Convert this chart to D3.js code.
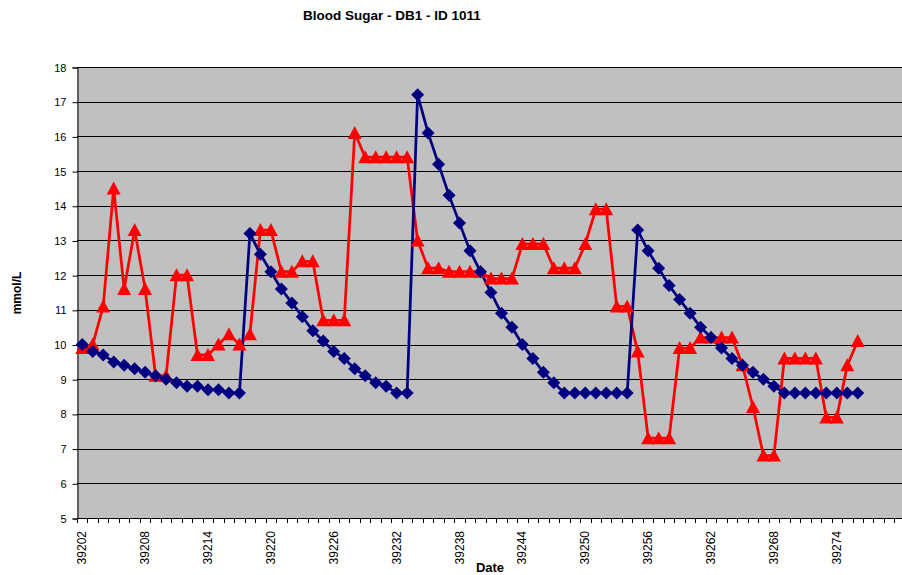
<!DOCTYPE html>
<html>
<head>
<meta charset="utf-8">
<script src="https://cdn.jsdelivr.net/npm/d3@7/dist/d3.min.js"></script>
<style>
    html, body { margin: 0; padding: 0; background: #fff; }
    svg { display: block; font-family: "Liberation Sans", Arial, sans-serif; }
</style>
</head>
<body>
<div id="chart"></div>
<script>
// Blood sugar chart — two daily series on a category (day serial) axis.

// Day serials on the category axis. The plot runs a few days past the
// last reading, like the original sheet.
const dates = [
    39202, 39203, 39204, 39205, 39206, 39207, 39208, 39209, 39210, 39211,
    39212, 39213, 39214, 39215, 39216, 39217, 39218, 39219, 39220, 39221,
    39222, 39223, 39224, 39225, 39226, 39227, 39228, 39229, 39230, 39231,
    39232, 39233, 39234, 39235, 39236, 39237, 39238, 39239, 39240, 39241,
    39242, 39243, 39244, 39245, 39246, 39247, 39248, 39249, 39250, 39251,
    39252, 39253, 39254, 39255, 39256, 39257, 39258, 39259, 39260, 39261,
    39262, 39263, 39264, 39265, 39266, 39267, 39268, 39269, 39270, 39271,
    39272, 39273, 39274, 39275, 39276, 39277, 39278, 39279, 39280,
];

// Labels shown under the axis (every sixth day).
const tickLabels = [
    39202, 39208, 39214, 39220, 39226, 39232, 39238,
    39244, 39250, 39256, 39262, 39268, 39274,
];

const yTicks = [5, 6, 7, 8, 9, 10, 11, 12, 13, 14, 15, 16, 17, 18];

// Blue (diamonds) series, one value per day from 39202.
const blueValues = [
    10.0, 9.8, 9.7, 9.5, 9.4, 9.3, 9.2, 9.1, 9.0, 8.9,
    8.8, 8.8, 8.7, 8.7, 8.6, 8.6, 13.2, 12.6, 12.1, 11.6,
    11.2, 10.8, 10.4, 10.1, 9.8, 9.6, 9.3, 9.1, 8.9, 8.8,
    8.6, 8.6, 17.2, 16.1, 15.2, 14.3, 13.5, 12.7, 12.1, 11.5,
    10.9, 10.5, 10.0, 9.6, 9.2, 8.9, 8.6, 8.6, 8.6, 8.6,
    8.6, 8.6, 8.6, 13.3, 12.7, 12.2, 11.7, 11.3, 10.9, 10.5,
    10.2, 9.9, 9.6, 9.4, 9.2, 9.0, 8.8, 8.6, 8.6, 8.6,
    8.6, 8.6, 8.6, 8.6, 8.6,
];

// Red (triangles) series.
const redValues = [
    9.9, 10.0, 11.1, 14.5, 11.6, 13.3, 11.6, 9.1, 9.1, 12.0,
    12.0, 9.7, 9.7, 10.0, 10.3, 10.0, 10.3, 13.3, 13.3, 12.1,
    12.1, 12.4, 12.4, 10.7, 10.7, 10.7, 16.1, 15.4, 15.4, 15.4,
    15.4, 15.4, 13.0, 12.2, 12.2, 12.1, 12.1, 12.1, 12.1, 11.9,
    11.9, 11.9, 12.9, 12.9, 12.9, 12.2, 12.2, 12.2, 12.9, 13.9,
    13.9, 11.1, 11.1, 9.8, 7.3, 7.3, 7.3, 9.9, 9.9, 10.2,
    10.2, 10.2, 10.2, 9.4, 8.2, 6.8, 6.8, 9.6, 9.6, 9.6,
    9.6, 7.9, 7.9, 9.4, 10.1,
];

const WIDTH = 902;
const HEIGHT = 575;
const PLOT = { left: 77, top: 67, bottom: 518, step: 10.48 };

const svg = d3.select("#chart")
    .append("svg")
    .attr("width", WIDTH)
    .attr("height", HEIGHT);

const x = d3.scaleBand()
    .domain(dates)
    .range([PLOT.left, PLOT.left + PLOT.step * dates.length])
    .paddingInner(0)
    .paddingOuter(0);

const y = d3.scaleLinear()
    .domain([5, 18])
    .range([PLOT.bottom, PLOT.top]);

const cx = (i) => x(dates[i]) + x.bandwidth() / 2;

// Plot area background.
svg.append("rect")
    .attr("x", PLOT.left)
    .attr("y", PLOT.top)
    .attr("width", WIDTH - PLOT.left)
    .attr("height", PLOT.bottom - PLOT.top)
    .attr("fill", "#c0c0c0");

// Horizontal gridlines.
svg.append("g")
    .selectAll("line")
    .data(yTicks)
    .enter()
    .append("line")
    .attr("x1", PLOT.left)
    .attr("x2", WIDTH)
    .attr("y1", (d) => Math.round(y(d)) + 0.5)
    .attr("y2", (d) => Math.round(y(d)) + 0.5)
    .attr("stroke", "#000")
    .attr("stroke-width", 1);

// Y axis.
const yAxis = svg.append("g")
    .attr("transform", `translate(${PLOT.left + 0.5},0.5)`)
    .call(d3.axisLeft(y).tickValues(yTicks).tickSize(5).tickPadding(6)
        .tickFormat(d3.format("d")));
yAxis.select(".domain").attr("stroke", "#000");
yAxis.selectAll(".tick line").attr("stroke", "#000");
yAxis.selectAll("text")
    .attr("font-size", "11px")
    .attr("font-family", "Liberation Sans, Arial, sans-serif")
    .attr("fill", "#000");

// X axis: line plus tick marks at category boundaries.
svg.append("line")
    .attr("x1", PLOT.left)
    .attr("x2", WIDTH)
    .attr("y1", PLOT.bottom + 0.5)
    .attr("y2", PLOT.bottom + 0.5)
    .attr("stroke", "#000");

svg.append("g")
    .selectAll("line")
    .data(dates)
    .enter()
    .append("line")
    .attr("x1", (d) => Math.round(x(d)) + 0.5)
    .attr("x2", (d) => Math.round(x(d)) + 0.5)
    .attr("y1", PLOT.bottom)
    .attr("y2", PLOT.bottom + 5)
    .attr("stroke", "#000");

svg.append("g")
    .selectAll("text")
    .data(tickLabels)
    .enter()
    .append("text")
    .attr("transform", (d) =>
        `translate(${x(d) + x.bandwidth() / 2 + 4},${PLOT.bottom + 13}) rotate(-90)`)
    .attr("text-anchor", "end")
    .attr("font-size", "12px")
    .attr("fill", "#000")
    .text((d) => d);

// Titles.
svg.append("text")
    .attr("x", 392)
    .attr("y", 20)
    .attr("text-anchor", "middle")
    .attr("font-size", "13.5px")
    .attr("font-weight", "bold")
    .text("Blood Sugar - DB1 - ID 1011");

svg.append("text")
    .attr("transform", "translate(21,293) rotate(-90)")
    .attr("text-anchor", "middle")
    .attr("font-size", "12px")
    .attr("font-weight", "bold")
    .text("mmol/L");

svg.append("text")
    .attr("x", 490)
    .attr("y", 572)
    .attr("text-anchor", "middle")
    .attr("font-size", "13px")
    .attr("font-weight", "bold")
    .text("Date");

// Series lines, then markers on top.
const plot = svg.append("g");

const line = d3.line()
    .x((d, i) => cx(i))
    .y((d) => y(d));

plot.append("path")
    .datum(redValues)
    .attr("d", line)
    .attr("fill", "none")
    .attr("stroke", "#ff0000")
    .attr("stroke-width", 2.75)
    .attr("stroke-linejoin", "round");

plot.append("path")
    .datum(blueValues)
    .attr("d", line)
    .attr("fill", "none")
    .attr("stroke", "#000080")
    .attr("stroke-width", 2.75)
    .attr("stroke-linejoin", "round");

plot.append("g")
    .selectAll("path")
    .data(redValues)
    .enter()
    .append("path")
    .attr("transform", (d, i) => `translate(${cx(i)},${y(d)})`)
    .attr("d", "M0,-7 L7,6 L-7,6 Z")
    .attr("fill", "#ff0000");

plot.append("g")
    .selectAll("path")
    .data(blueValues)
    .enter()
    .append("path")
    .attr("transform", (d, i) => `translate(${cx(i)},${y(d)})`)
    .attr("d", "M0,-6.5 L6.5,0 L0,6.5 L-6.5,0 Z")
    .attr("fill", "#000080");
</script>
</body>
</html>
